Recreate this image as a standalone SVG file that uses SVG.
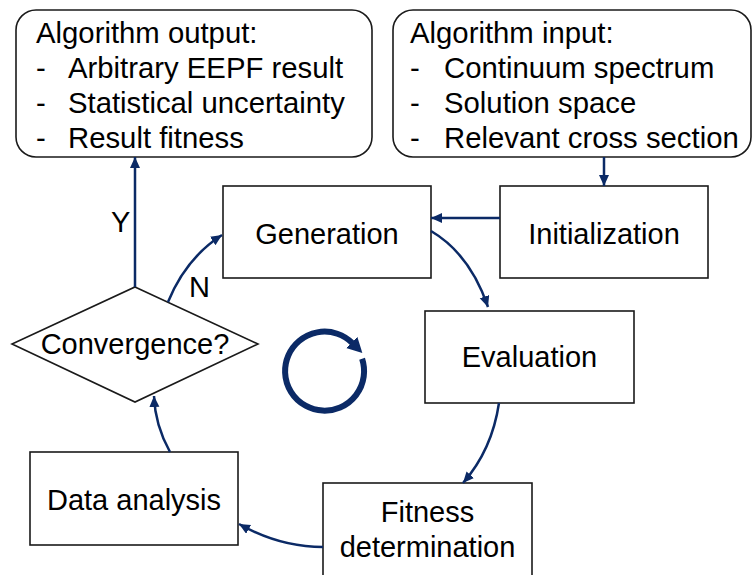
<svg xmlns="http://www.w3.org/2000/svg" width="752" height="575" viewBox="0 0 752 575">
<style>
.box{fill:#fff;stroke:#1a1a1a;stroke-width:1.6}
.t{font-family:"Liberation Sans",Arial,sans-serif;font-size:29px;fill:#000}
.l{font-size:29.3px}
.c{text-anchor:middle}
.con{fill:none;stroke:#0b2a66;stroke-width:2.5}
</style>
<defs>
<marker id="ah" markerUnits="userSpaceOnUse" markerWidth="14" markerHeight="12" refX="11" refY="5" orient="auto">
<path d="M0,0 L11,5 L0,10 Z" fill="#0b2a66"/>
</marker>
<marker id="big" markerUnits="userSpaceOnUse" markerWidth="20" markerHeight="20" refX="1" refY="8" orient="auto">
<path d="M0,0 L15,8 L0,16 Z" fill="#0b2a66"/>
</marker>
</defs>
<g id="output">
<rect class="box" x="16" y="10" width="356" height="147" rx="20"/>
<text class="t l" x="36" y="43">Algorithm output:</text>
<text class="t l" x="36" y="78">-</text><text class="t l" x="68" y="78">Arbitrary EEPF result</text>
<text class="t l" x="36" y="113">-</text><text class="t l" x="68" y="113">Statistical uncertainty</text>
<text class="t l" x="36" y="148">-</text><text class="t l" x="68" y="148">Result fitness</text>
</g>
<g id="input">
<rect class="box" x="393" y="10" width="358" height="147" rx="20"/>
<text class="t l" x="410" y="43">Algorithm input:</text>
<text class="t l" x="410" y="78">-</text><text class="t l" x="444" y="78">Continuum spectrum</text>
<text class="t l" x="410" y="113">-</text><text class="t l" x="444" y="113">Solution space</text>
<text class="t l" x="410" y="148">-</text><text class="t l" x="444" y="148">Relevant cross section</text>
</g>
<g id="generation">
<rect class="box" x="223" y="186" width="208" height="92"/>
<text class="t c" x="327" y="244">Generation</text>
</g>
<g id="initialization">
<rect class="box" x="500" y="186" width="208" height="92"/>
<text class="t c" x="604" y="244">Initialization</text>
</g>
<g id="evaluation">
<rect class="box" x="425" y="311" width="209" height="92"/>
<text class="t c" x="529.5" y="367">Evaluation</text>
</g>
<g id="fitness">
<rect class="box" x="323" y="483" width="209" height="100"/>
<text class="t c" x="427.5" y="522">Fitness</text>
<text class="t c" x="427.5" y="557">determination</text>
</g>
<g id="data-analysis">
<rect class="box" x="30" y="452" width="208" height="93"/>
<text class="t c" x="134" y="510">Data analysis</text>
</g>
<g id="convergence">
<polygon class="box" points="135,287 258,344 135,402 12,344"/>
<text class="t c" x="135" y="354">Convergence?</text>
</g>
<g id="cycle-symbol">
<path d="M362.1,358.8 A39.5,39.5 0 1 1 352.4,343.1" fill="none" stroke="#0b2a66" stroke-width="6" marker-end="url(#big)"/>
</g>
<g id="connectors">
<path class="con" d="M604,157 L604,186" marker-end="url(#ah)"/>
<path class="con" d="M500,218 L431,218" marker-end="url(#ah)"/>
<path class="con" d="M431,231 Q470,254 488,307" marker-end="url(#ah)"/>
<path class="con" d="M499,403 Q492,450 463,483" marker-end="url(#ah)"/>
<path class="con" d="M323,547 Q280,547 239,524" marker-end="url(#ah)"/>
<path class="con" d="M170,452 Q155,425 154,396" marker-end="url(#ah)"/>
<path class="con" d="M135,287 L135,157" marker-end="url(#ah)"/>
<path class="con" d="M168,302 Q186,258 222,235" marker-end="url(#ah)"/>
<text class="t" x="111" y="232">Y</text>
<text class="t" x="189" y="297">N</text>
</g>
</svg>
